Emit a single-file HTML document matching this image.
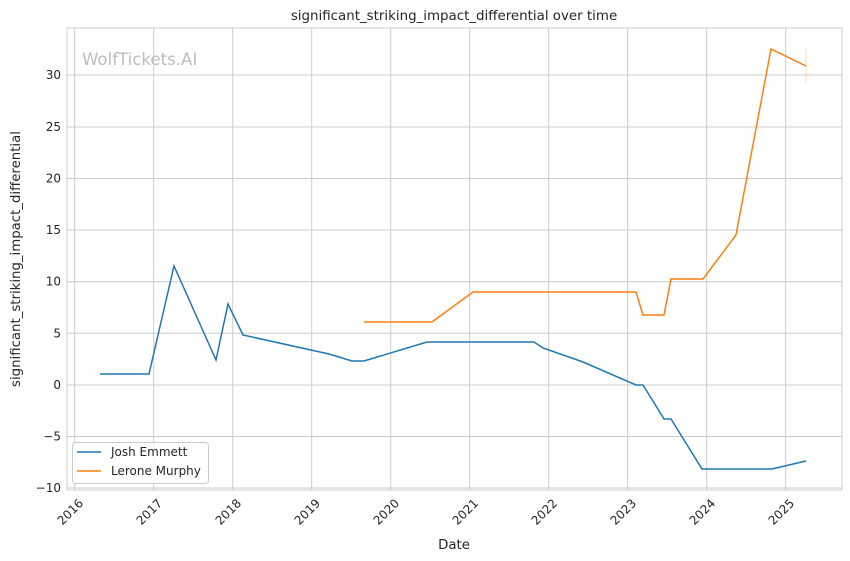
<!DOCTYPE html>
<html><head><meta charset="utf-8"><style>body{margin:0;background:#fff}svg{display:block}text{font-family:"DejaVu Sans","Liberation Sans",sans-serif;fill:#262626}</style></head><body>
<svg width="850" height="561" viewBox="0 0 850 561" xmlns="http://www.w3.org/2000/svg">
<rect width="850" height="561" fill="#fff"/>
<g stroke="#cccccc" stroke-width="1">
<line x1="74.7" y1="28" x2="74.7" y2="490"/><line x1="153.7" y1="28" x2="153.7" y2="490"/><line x1="232.7" y1="28" x2="232.7" y2="490"/><line x1="311.7" y1="28" x2="311.7" y2="490"/><line x1="390.7" y1="28" x2="390.7" y2="490"/><line x1="469.7" y1="28" x2="469.7" y2="490"/><line x1="548.7" y1="28" x2="548.7" y2="490"/><line x1="627.7" y1="28" x2="627.7" y2="490"/><line x1="706.7" y1="28" x2="706.7" y2="490"/><line x1="785.7" y1="28" x2="785.7" y2="490"/>
<line x1="67" y1="75" x2="842" y2="75"/><line x1="67" y1="127" x2="842" y2="127"/><line x1="67" y1="178.5" x2="842" y2="178.5"/><line x1="67" y1="230" x2="842" y2="230"/><line x1="67" y1="281.7" x2="842" y2="281.7"/><line x1="67" y1="333.3" x2="842" y2="333.3"/><line x1="67" y1="385" x2="842" y2="385"/><line x1="67" y1="436.5" x2="842" y2="436.5"/><line x1="67" y1="488" x2="842" y2="488"/>
</g>
<rect x="67" y="28" width="775" height="462" fill="none" stroke="#cccccc" stroke-width="1"/>
<text x="82" y="65" font-size="16.6" style="fill:#bdbdbd">WolfTickets.AI</text>
<line x1="806" y1="49" x2="806" y2="83" stroke="#ff7f0e" stroke-opacity="0.3" stroke-width="1"/>
<polyline fill="none" stroke="#1f77b4" stroke-width="1.5" points="100,374 149,374 174,266 216,360 228,304 243,335 329,354 352,361 364,361 427,342 534,342 543,348 583,362 636,385 643,385 664,419 671,419 702,469 772,469 806,461"/>
<polyline fill="none" stroke="#ff7f0e" stroke-width="1.5" points="364,322 432,322 473,292 636,292 643,315 664,315 671,279 703,279 736,235 771,49 806,66"/>
<g font-size="12" text-anchor="end">
<text x="61" y="79">30</text><text x="61" y="131">25</text><text x="61" y="182.5">20</text><text x="61" y="234">15</text><text x="61" y="285.7">10</text><text x="61" y="337.3">5</text><text x="61" y="389">0</text><text x="61" y="440.5">−5</text><text x="61" y="492">−10</text>
</g>
<g font-size="12" text-anchor="end">
<text transform="translate(84,504) rotate(-45)">2016</text><text transform="translate(163,504) rotate(-45)">2017</text><text transform="translate(242,504) rotate(-45)">2018</text><text transform="translate(321,504) rotate(-45)">2019</text><text transform="translate(400,504) rotate(-45)">2020</text><text transform="translate(479,504) rotate(-45)">2021</text><text transform="translate(558,504) rotate(-45)">2022</text><text transform="translate(637,504) rotate(-45)">2023</text><text transform="translate(716,504) rotate(-45)">2024</text><text transform="translate(795,504) rotate(-45)">2025</text>
</g>
<text x="454" y="549" font-size="13.3" text-anchor="middle">Date</text>
<text transform="translate(20,259) rotate(-90)" font-size="13.3" text-anchor="middle">significant_striking_impact_differential</text>
<text x="454" y="20" font-size="13.4" text-anchor="middle">significant_striking_impact_differential over time</text>
<rect x="72.5" y="442.5" width="136" height="41" rx="3" fill="#fff" fill-opacity="0.8" stroke="#cccccc"/>
<line x1="77" y1="452" x2="101" y2="452" stroke="#1f77b4" stroke-width="1.5"/>
<line x1="77" y1="471" x2="101" y2="471" stroke="#ff7f0e" stroke-width="1.5"/>
<text x="111" y="456" font-size="12">Josh Emmett</text>
<text x="111" y="475" font-size="12">Lerone Murphy</text>
</svg>
</body></html>
